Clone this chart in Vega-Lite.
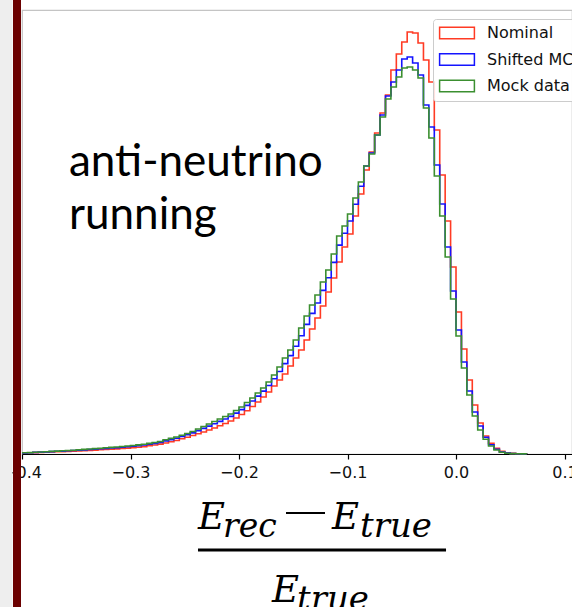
{
"$schema": "https://vega.github.io/schema/vega-lite/v6.json",
"width": 550, "height": 444,
"autosize": {"type": "none"},
"padding": {"left": 22, "top": 10, "right": 0, "bottom": 153},
"background": "white",
"config": {"view": {"stroke": "#c4c4c4", "strokeWidth": 1.2}, "font": "DejaVu Sans"},
"data": {"values": [
{"e":-0.4,"s":"Nominal","n":1.0},{"e":-0.395,"s":"Nominal","n":1.2},{"e":-0.39,"s":"Nominal","n":1.4},{"e":-0.385,"s":"Nominal","n":1.6},{"e":-0.38,"s":"Nominal","n":1.8},{"e":-0.375,"s":"Nominal","n":2.0},{"e":-0.37,"s":"Nominal","n":2.2},{"e":-0.365,"s":"Nominal","n":2.4},{"e":-0.36,"s":"Nominal","n":2.6},{"e":-0.355,"s":"Nominal","n":2.8},
{"e":-0.35,"s":"Nominal","n":3.0},{"e":-0.345,"s":"Nominal","n":3.3},{"e":-0.34,"s":"Nominal","n":3.6},{"e":-0.335,"s":"Nominal","n":3.9},{"e":-0.33,"s":"Nominal","n":4.2},{"e":-0.325,"s":"Nominal","n":4.5},{"e":-0.32,"s":"Nominal","n":4.8},{"e":-0.315,"s":"Nominal","n":5.1},{"e":-0.31,"s":"Nominal","n":5.5},{"e":-0.305,"s":"Nominal","n":5.9},
{"e":-0.3,"s":"Nominal","n":6.3},{"e":-0.295,"s":"Nominal","n":6.8},{"e":-0.29,"s":"Nominal","n":7.4},{"e":-0.285,"s":"Nominal","n":8.2},{"e":-0.28,"s":"Nominal","n":9.0},{"e":-0.275,"s":"Nominal","n":9.9},{"e":-0.27,"s":"Nominal","n":11.0},{"e":-0.265,"s":"Nominal","n":12.2},{"e":-0.26,"s":"Nominal","n":13.5},{"e":-0.255,"s":"Nominal","n":15.2},
{"e":-0.25,"s":"Nominal","n":16.8},{"e":-0.245,"s":"Nominal","n":18.5},{"e":-0.24,"s":"Nominal","n":20.3},{"e":-0.235,"s":"Nominal","n":22.0},{"e":-0.23,"s":"Nominal","n":24.0},{"e":-0.225,"s":"Nominal","n":26.0},{"e":-0.22,"s":"Nominal","n":28.2},{"e":-0.215,"s":"Nominal","n":30.5},{"e":-0.21,"s":"Nominal","n":33.0},{"e":-0.205,"s":"Nominal","n":36.0},
{"e":-0.2,"s":"Nominal","n":39.5},{"e":-0.195,"s":"Nominal","n":43.3},{"e":-0.19,"s":"Nominal","n":47.5},{"e":-0.185,"s":"Nominal","n":52},{"e":-0.18,"s":"Nominal","n":57},{"e":-0.175,"s":"Nominal","n":62},{"e":-0.17,"s":"Nominal","n":68},{"e":-0.165,"s":"Nominal","n":74},{"e":-0.16,"s":"Nominal","n":80},{"e":-0.155,"s":"Nominal","n":88},
{"e":-0.15,"s":"Nominal","n":96},{"e":-0.145,"s":"Nominal","n":104},{"e":-0.14,"s":"Nominal","n":114},{"e":-0.135,"s":"Nominal","n":125},{"e":-0.13,"s":"Nominal","n":136},{"e":-0.125,"s":"Nominal","n":148},{"e":-0.12,"s":"Nominal","n":162},{"e":-0.115,"s":"Nominal","n":176},{"e":-0.11,"s":"Nominal","n":192},{"e":-0.105,"s":"Nominal","n":207},
{"e":-0.1,"s":"Nominal","n":220},{"e":-0.095,"s":"Nominal","n":238},{"e":-0.09,"s":"Nominal","n":260},{"e":-0.085,"s":"Nominal","n":284},{"e":-0.08,"s":"Nominal","n":302},{"e":-0.075,"s":"Nominal","n":321},{"e":-0.07,"s":"Nominal","n":341},{"e":-0.065,"s":"Nominal","n":359},{"e":-0.06,"s":"Nominal","n":384},{"e":-0.055,"s":"Nominal","n":400},
{"e":-0.05,"s":"Nominal","n":412},{"e":-0.045,"s":"Nominal","n":422},{"e":-0.04,"s":"Nominal","n":421},{"e":-0.035,"s":"Nominal","n":411},{"e":-0.03,"s":"Nominal","n":394},{"e":-0.025,"s":"Nominal","n":372},{"e":-0.02,"s":"Nominal","n":324},{"e":-0.015,"s":"Nominal","n":279},{"e":-0.01,"s":"Nominal","n":233},{"e":-0.005,"s":"Nominal","n":187},
{"e":0,"s":"Nominal","n":142},{"e":0.005,"s":"Nominal","n":105},{"e":0.01,"s":"Nominal","n":74},{"e":0.015,"s":"Nominal","n":49},{"e":0.02,"s":"Nominal","n":31},{"e":0.025,"s":"Nominal","n":18},{"e":0.03,"s":"Nominal","n":10.7},{"e":0.035,"s":"Nominal","n":5.7},{"e":0.04,"s":"Nominal","n":2.6},{"e":0.045,"s":"Nominal","n":1.3},
{"e":0.05,"s":"Nominal","n":0.6},{"e":0.055,"s":"Nominal","n":0.3},{"e":0.06,"s":"Nominal","n":0.1},{"e":0.065,"s":"Nominal","n":0},
{"e":-0.4,"s":"Shifted MC","n":1.1},{"e":-0.395,"s":"Shifted MC","n":1.3},{"e":-0.39,"s":"Shifted MC","n":1.6},{"e":-0.385,"s":"Shifted MC","n":1.9},{"e":-0.38,"s":"Shifted MC","n":2.1},{"e":-0.375,"s":"Shifted MC","n":2.4},{"e":-0.37,"s":"Shifted MC","n":2.7},{"e":-0.365,"s":"Shifted MC","n":2.9},{"e":-0.36,"s":"Shifted MC","n":3.2},{"e":-0.355,"s":"Shifted MC","n":3.5},
{"e":-0.35,"s":"Shifted MC","n":3.8},{"e":-0.345,"s":"Shifted MC","n":4.1},{"e":-0.34,"s":"Shifted MC","n":4.5},{"e":-0.335,"s":"Shifted MC","n":4.9},{"e":-0.33,"s":"Shifted MC","n":5.2},{"e":-0.325,"s":"Shifted MC","n":5.6},{"e":-0.32,"s":"Shifted MC","n":6.0},{"e":-0.315,"s":"Shifted MC","n":6.3},{"e":-0.31,"s":"Shifted MC","n":6.8},{"e":-0.305,"s":"Shifted MC","n":7.3},
{"e":-0.3,"s":"Shifted MC","n":7.7},{"e":-0.295,"s":"Shifted MC","n":8.3},{"e":-0.29,"s":"Shifted MC","n":9.0},{"e":-0.285,"s":"Shifted MC","n":9.8},{"e":-0.28,"s":"Shifted MC","n":10.6},{"e":-0.275,"s":"Shifted MC","n":11.6},{"e":-0.27,"s":"Shifted MC","n":13.1},{"e":-0.265,"s":"Shifted MC","n":14.4},{"e":-0.26,"s":"Shifted MC","n":15.8},{"e":-0.255,"s":"Shifted MC","n":17.5},
{"e":-0.25,"s":"Shifted MC","n":19.2},{"e":-0.245,"s":"Shifted MC","n":21.1},{"e":-0.24,"s":"Shifted MC","n":23.4},{"e":-0.235,"s":"Shifted MC","n":25.6},{"e":-0.23,"s":"Shifted MC","n":27.9},{"e":-0.225,"s":"Shifted MC","n":30.2},{"e":-0.22,"s":"Shifted MC","n":32.6},{"e":-0.215,"s":"Shifted MC","n":35.0},{"e":-0.21,"s":"Shifted MC","n":37.6},{"e":-0.205,"s":"Shifted MC","n":40.9},
{"e":-0.2,"s":"Shifted MC","n":44.4},{"e":-0.195,"s":"Shifted MC","n":48.6},{"e":-0.19,"s":"Shifted MC","n":53.0},{"e":-0.185,"s":"Shifted MC","n":57.9},{"e":-0.18,"s":"Shifted MC","n":62.9},{"e":-0.175,"s":"Shifted MC","n":68.5},{"e":-0.17,"s":"Shifted MC","n":75.2},{"e":-0.165,"s":"Shifted MC","n":82.5},{"e":-0.16,"s":"Shifted MC","n":90.4},{"e":-0.155,"s":"Shifted MC","n":98.4},
{"e":-0.15,"s":"Shifted MC","n":107.7},{"e":-0.145,"s":"Shifted MC","n":118.3},{"e":-0.14,"s":"Shifted MC","n":129.6},{"e":-0.135,"s":"Shifted MC","n":140.6},{"e":-0.13,"s":"Shifted MC","n":151},{"e":-0.125,"s":"Shifted MC","n":163.6},{"e":-0.12,"s":"Shifted MC","n":176.3},{"e":-0.115,"s":"Shifted MC","n":191.6},{"e":-0.11,"s":"Shifted MC","n":208.9},{"e":-0.105,"s":"Shifted MC","n":220.7},
{"e":-0.1,"s":"Shifted MC","n":233},{"e":-0.095,"s":"Shifted MC","n":249.7},{"e":-0.09,"s":"Shifted MC","n":267.8},{"e":-0.085,"s":"Shifted MC","n":288},{"e":-0.08,"s":"Shifted MC","n":301},{"e":-0.075,"s":"Shifted MC","n":319},{"e":-0.07,"s":"Shifted MC","n":339},{"e":-0.065,"s":"Shifted MC","n":358},{"e":-0.06,"s":"Shifted MC","n":372},{"e":-0.055,"s":"Shifted MC","n":384},
{"e":-0.05,"s":"Shifted MC","n":395},{"e":-0.045,"s":"Shifted MC","n":397},{"e":-0.04,"s":"Shifted MC","n":391},{"e":-0.035,"s":"Shifted MC","n":379},{"e":-0.03,"s":"Shifted MC","n":349},{"e":-0.025,"s":"Shifted MC","n":327},{"e":-0.02,"s":"Shifted MC","n":289},{"e":-0.015,"s":"Shifted MC","n":250},{"e":-0.01,"s":"Shifted MC","n":207},{"e":-0.005,"s":"Shifted MC","n":163},
{"e":0,"s":"Shifted MC","n":124},{"e":0.005,"s":"Shifted MC","n":92},{"e":0.01,"s":"Shifted MC","n":63},{"e":0.015,"s":"Shifted MC","n":42},{"e":0.02,"s":"Shifted MC","n":28},{"e":0.025,"s":"Shifted MC","n":16.7},{"e":0.03,"s":"Shifted MC","n":9.3},{"e":0.035,"s":"Shifted MC","n":4.7},{"e":0.04,"s":"Shifted MC","n":2.0},{"e":0.045,"s":"Shifted MC","n":1.0},
{"e":0.05,"s":"Shifted MC","n":0.5},{"e":0.055,"s":"Shifted MC","n":0.25},{"e":0.06,"s":"Shifted MC","n":0.1},{"e":0.065,"s":"Shifted MC","n":0},
{"e":-0.4,"s":"Mock data","n":1.2},{"e":-0.395,"s":"Mock data","n":1.4},{"e":-0.39,"s":"Mock data","n":1.7},{"e":-0.385,"s":"Mock data","n":2.0},{"e":-0.38,"s":"Mock data","n":2.3},{"e":-0.375,"s":"Mock data","n":2.6},{"e":-0.37,"s":"Mock data","n":2.9},{"e":-0.365,"s":"Mock data","n":3.2},{"e":-0.36,"s":"Mock data","n":3.5},{"e":-0.355,"s":"Mock data","n":3.8},
{"e":-0.35,"s":"Mock data","n":4.2},{"e":-0.345,"s":"Mock data","n":4.6},{"e":-0.34,"s":"Mock data","n":5.0},{"e":-0.335,"s":"Mock data","n":5.4},{"e":-0.33,"s":"Mock data","n":5.8},{"e":-0.325,"s":"Mock data","n":6.2},{"e":-0.32,"s":"Mock data","n":6.6},{"e":-0.315,"s":"Mock data","n":7.0},{"e":-0.31,"s":"Mock data","n":7.5},{"e":-0.305,"s":"Mock data","n":8.0},
{"e":-0.3,"s":"Mock data","n":8.5},{"e":-0.295,"s":"Mock data","n":9.1},{"e":-0.29,"s":"Mock data","n":9.8},{"e":-0.285,"s":"Mock data","n":10.6},{"e":-0.28,"s":"Mock data","n":11.5},{"e":-0.275,"s":"Mock data","n":12.5},{"e":-0.27,"s":"Mock data","n":14.3},{"e":-0.265,"s":"Mock data","n":15.6},{"e":-0.26,"s":"Mock data","n":17.0},{"e":-0.255,"s":"Mock data","n":18.7},
{"e":-0.25,"s":"Mock data","n":20.5},{"e":-0.245,"s":"Mock data","n":22.5},{"e":-0.24,"s":"Mock data","n":25.0},{"e":-0.235,"s":"Mock data","n":27.5},{"e":-0.23,"s":"Mock data","n":30.0},{"e":-0.225,"s":"Mock data","n":32.5},{"e":-0.22,"s":"Mock data","n":35.0},{"e":-0.215,"s":"Mock data","n":37.5},{"e":-0.21,"s":"Mock data","n":40.0},{"e":-0.205,"s":"Mock data","n":43.5},
{"e":-0.2,"s":"Mock data","n":47},{"e":-0.195,"s":"Mock data","n":51.5},{"e":-0.19,"s":"Mock data","n":56},{"e":-0.185,"s":"Mock data","n":61},{"e":-0.18,"s":"Mock data","n":66},{"e":-0.175,"s":"Mock data","n":72},{"e":-0.17,"s":"Mock data","n":79},{"e":-0.165,"s":"Mock data","n":87},{"e":-0.16,"s":"Mock data","n":96},{"e":-0.155,"s":"Mock data","n":104},
{"e":-0.15,"s":"Mock data","n":114},{"e":-0.145,"s":"Mock data","n":126},{"e":-0.14,"s":"Mock data","n":138},{"e":-0.135,"s":"Mock data","n":149},{"e":-0.13,"s":"Mock data","n":159},{"e":-0.125,"s":"Mock data","n":172},{"e":-0.12,"s":"Mock data","n":184},{"e":-0.115,"s":"Mock data","n":200},{"e":-0.11,"s":"Mock data","n":218},{"e":-0.105,"s":"Mock data","n":228},
{"e":-0.1,"s":"Mock data","n":240},{"e":-0.095,"s":"Mock data","n":256},{"e":-0.09,"s":"Mock data","n":272},{"e":-0.085,"s":"Mock data","n":288},{"e":-0.08,"s":"Mock data","n":300},{"e":-0.075,"s":"Mock data","n":319},{"e":-0.07,"s":"Mock data","n":337},{"e":-0.065,"s":"Mock data","n":355},{"e":-0.06,"s":"Mock data","n":367},{"e":-0.055,"s":"Mock data","n":377},
{"e":-0.05,"s":"Mock data","n":386},{"e":-0.045,"s":"Mock data","n":387},{"e":-0.04,"s":"Mock data","n":384},{"e":-0.035,"s":"Mock data","n":376},{"e":-0.03,"s":"Mock data","n":346},{"e":-0.025,"s":"Mock data","n":316},{"e":-0.02,"s":"Mock data","n":278},{"e":-0.015,"s":"Mock data","n":238},{"e":-0.01,"s":"Mock data","n":197},{"e":-0.005,"s":"Mock data","n":155},
{"e":0,"s":"Mock data","n":118},{"e":0.005,"s":"Mock data","n":86},{"e":0.01,"s":"Mock data","n":59},{"e":0.015,"s":"Mock data","n":38},{"e":0.02,"s":"Mock data","n":24},{"e":0.025,"s":"Mock data","n":14.7},{"e":0.03,"s":"Mock data","n":8.0},{"e":0.035,"s":"Mock data","n":4.0},{"e":0.04,"s":"Mock data","n":1.8},{"e":0.045,"s":"Mock data","n":0.8},
{"e":0.05,"s":"Mock data","n":0.4},{"e":0.055,"s":"Mock data","n":0.2},{"e":0.06,"s":"Mock data","n":0.1},{"e":0.065,"s":"Mock data","n":0}
]},
"layer": [
{"transform": [{"filter": "datum.s === 'Nominal'"}],
 "mark": {"type": "line", "interpolate": "step-after", "strokeWidth": 1.6},
 "encoding": {
  "x": {"field": "e", "type": "quantitative", "scale": {"domain": [-0.4, 0.1069], "nice": false, "zero": false},
        "axis": {"values": [-0.4, -0.3, -0.2, -0.1, 0, 0.1], "format": ".1f", "title": null, "grid": false,
                 "domainColor": "black", "domainWidth": 1.2, "tickColor": "black", "tickWidth": 1.2, "tickSize": 5,
                 "labelColor": "#111111", "labelFont": "DejaVu Sans", "labelFontSize": 16, "labelPadding": 5, "labelFlush": false, "labelOverlap": false}},
  "y": {"field": "n", "type": "quantitative", "scale": {"domain": [0, 444], "nice": false}, "axis": null},
  "color": {"field": "s", "type": "nominal",
            "scale": {"domain": ["Nominal", "Shifted MC", "Mock data"], "range": ["#ff3b24", "#1414ff", "#3b8f30"]},
            "legend": {"title": null, "orient": "none", "legendX": 411, "legendY": 9,
                       "symbolType": "M-2.9,-0.97H2.9V0.97H-2.9Z", "symbolSize": 144, "symbolStrokeWidth": 1.5, "symbolOffset": 10,
                       "symbolFillColor": "transparent", "labelFont": "DejaVu Sans", "labelFontSize": 16, "labelColor": "#111111",
                       "labelOffset": 22, "padding": 6, "rowPadding": 8.5, "fillColor": "rgba(255,255,255,0.85)",
                       "strokeColor": "#cccccc", "cornerRadius": 3}}
 }},
{"transform": [{"filter": "datum.s === 'Shifted MC'"}],
 "mark": {"type": "line", "interpolate": "step-after", "strokeWidth": 1.6},
 "encoding": {
  "x": {"field": "e", "type": "quantitative"},
  "y": {"field": "n", "type": "quantitative"},
  "color": {"field": "s", "type": "nominal"}
 }},
{"transform": [{"filter": "datum.s === 'Mock data'"}],
 "mark": {"type": "line", "interpolate": "step-after", "strokeWidth": 1.6},
 "encoding": {
  "x": {"field": "e", "type": "quantitative"},
  "y": {"field": "n", "type": "quantitative"},
  "color": {"field": "s", "type": "nominal"}
 }},
{"data": {"values": [{}]},
 "mark": {"type": "rule", "strokeWidth": 13, "color": "#eeeeee"},
 "encoding": {"x": {"datum": -0.41475, "type": "quantitative"}, "y": {"datum": 460, "type": "quantitative"}, "y2": {"datum": -160}}},
{"data": {"values": [{}]},
 "mark": {"type": "rule", "strokeWidth": 8, "color": "#6b0000"},
 "encoding": {"x": {"datum": -0.40461, "type": "quantitative"}, "y": {"datum": 460, "type": "quantitative"}, "y2": {"datum": -160}}},
{"data": {"values": [{}]},
 "mark": {"type": "text", "text": ["anti-neutrino", "running"], "font": "Lato", "fontSize": 44, "lineHeight": 53, "align": "left", "baseline": "alphabetic", "color": "black"},
 "encoding": {"x": {"datum": -0.3567, "type": "quantitative"}, "y": {"datum": 278, "type": "quantitative"}}},
{"data": {"values": [{}]},
 "mark": {"type": "text", "text": "E", "font": "DejaVu Serif", "fontStyle": "italic", "fontSize": 37, "align": "left", "baseline": "alphabetic", "color": "black"},
 "encoding": {"x": {"datum": -0.2378, "type": "quantitative"}, "y": {"datum": -75, "type": "quantitative"}}},
{"data": {"values": [{}]},
 "mark": {"type": "text", "text": "rec", "font": "DejaVu Serif", "fontStyle": "italic", "fontSize": 33, "align": "left", "baseline": "alphabetic", "color": "black"},
 "encoding": {"x": {"datum": -0.21475, "type": "quantitative"}, "y": {"datum": -83, "type": "quantitative"}}},
{"data": {"values": [{}]},
 "mark": {"type": "rule", "strokeWidth": 2.2, "color": "black"},
 "encoding": {"x": {"datum": -0.15668, "type": "quantitative"}, "x2": {"datum": -0.12074}, "y": {"datum": -59, "type": "quantitative"}}},
{"data": {"values": [{}]},
 "mark": {"type": "text", "text": "E", "font": "DejaVu Serif", "fontStyle": "italic", "fontSize": 37, "align": "left", "baseline": "alphabetic", "color": "black"},
 "encoding": {"x": {"datum": -0.11429, "type": "quantitative"}, "y": {"datum": -75, "type": "quantitative"}}},
{"data": {"values": [{}]},
 "mark": {"type": "text", "text": "true", "font": "DejaVu Serif", "fontStyle": "italic", "fontSize": 34, "align": "left", "baseline": "alphabetic", "color": "black"},
 "encoding": {"x": {"datum": -0.08848, "type": "quantitative"}, "y": {"datum": -83, "type": "quantitative"}}},
{"data": {"values": [{}]},
 "mark": {"type": "rule", "strokeWidth": 2.8, "color": "black"},
 "encoding": {"x": {"datum": -0.2378, "type": "quantitative"}, "x2": {"datum": -0.0092}, "y": {"datum": -96, "type": "quantitative"}}},
{"data": {"values": [{}]},
 "mark": {"type": "text", "text": "E", "font": "DejaVu Serif", "fontStyle": "italic", "fontSize": 37, "align": "left", "baseline": "alphabetic", "color": "black"},
 "encoding": {"x": {"datum": -0.16959, "type": "quantitative"}, "y": {"datum": -148, "type": "quantitative"}}},
{"data": {"values": [{}]},
 "mark": {"type": "text", "text": "true", "font": "DejaVu Serif", "fontStyle": "italic", "fontSize": 34, "align": "left", "baseline": "alphabetic", "color": "black"},
 "encoding": {"x": {"datum": -0.14654, "type": "quantitative"}, "y": {"datum": -156, "type": "quantitative"}}}
]
}
